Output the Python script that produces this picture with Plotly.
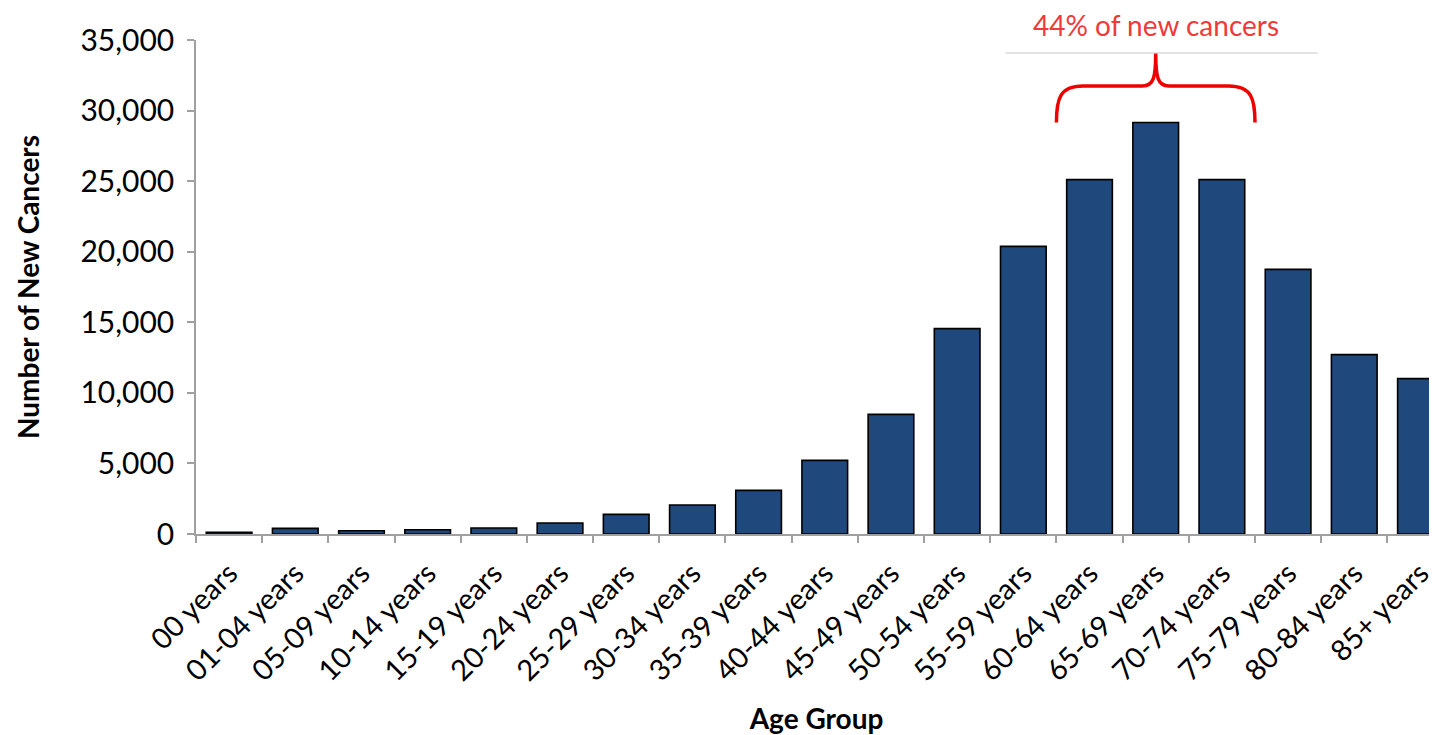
import plotly.graph_objects as go

categories = ["00 years", "01-04 years", "05-09 years", "10-14 years", "15-19 years",
              "20-24 years", "25-29 years", "30-34 years", "35-39 years", "40-44 years",
              "45-49 years", "50-54 years", "55-59 years", "60-64 years", "65-69 years",
              "70-74 years", "75-79 years", "80-84 years", "85+ years"]
new_cancers = [120, 400, 230, 300, 420, 780, 1390, 2055, 3090, 5215,
               8475, 14550, 20380, 25110, 29150, 25110, 18750, 12710, 11005]
y_ticks = [0, 5000, 10000, 15000, 20000, 25000, 30000, 35000]
bracket_label = "44% of new cancers"
bracket_start, bracket_end = 13, 15   # indices of 60-64 ... 70-74

positions = list(range(len(categories)))
FONT = "Lato"
AXIS_GREY = "#a0a0a0"

fig = go.Figure()
fig.add_trace(go.Bar(
    x=positions, y=new_cancers, width=0.69,
    marker=dict(color="#1f497d", line=dict(color="#000000", width=1.6)),
    showlegend=False, hoverinfo="x+y",
))

# bracket geometry in data units
lo = bracket_start - 0.5
hi = bracket_end + 0.5
mid = (lo + hi) / 2
y_end = new_cancers[bracket_start + 1]
y_bar = 31745
y_tip = 34060
path = (f"M {lo},{y_end} C {lo},{y_bar - 900} {lo + 0.05},{y_bar} {lo + 0.4},{y_bar} "
        f"L {mid - 0.2},{y_bar} C {mid - 0.03},{y_bar} {mid},{y_bar + 600} {mid},{y_tip} "
        f"C {mid},{y_bar + 600} {mid + 0.03},{y_bar} {mid + 0.2},{y_bar} "
        f"L {hi - 0.4},{y_bar} C {hi - 0.05},{y_bar} {hi},{y_bar - 900} {hi},{y_end}")
fig.add_shape(type="path", path=path, xref="x", yref="y",
              line=dict(color="#ee0000", width=3.5))
fig.add_shape(type="line", xref="x", yref="y", x0=lo - 0.77, x1=hi + 0.95,
              y0=34080, y1=34080, line=dict(color="#c8c8c8", width=1))
fig.add_annotation(x=mid, y=1.03, xref="x", yref="paper", text=bracket_label,
                   showarrow=False, font=dict(family=FONT, size=28, color="#f03a3a"),
                   xanchor="center", yanchor="middle")

# the page body adds an 8px offset, so the figure is 8px smaller on each axis
fig.update_layout(
    width=1429, height=727,
    margin=dict(l=188, r=0, t=32, b=201, autoexpand=False),
    paper_bgcolor="white", plot_bgcolor="white",
    font=dict(family=FONT, color="#000000"),
    bargap=0.31,
)
fig.update_xaxes(
    range=[-0.5, 18.25], automargin=False,
    tickmode="array", tickvals=positions, ticktext=categories,
    tickangle=-45, tickfont=dict(size=29, color="#000000"),
    ticks="", showline=True, linecolor=AXIS_GREY, linewidth=1.5,
    showgrid=False, zeroline=False,
    minor=dict(tickmode="array", tickvals=[p - 0.5 for p in positions] + [len(positions) - 0.5],
               ticks="outside", ticklen=7, tickcolor=AXIS_GREY, tickwidth=1.5, showgrid=False),
    ticklabelstandoff=9,
    title=dict(text="<b>Age Group</b>", font=dict(size=28, color="#000000"), standoff=28),
)
fig.update_yaxes(
    range=[0, 35000], automargin=False, tickmode="array", tickvals=y_ticks,
    ticktext=[f"{v:,}" for v in y_ticks],
    tickfont=dict(size=30, color="#000000"),
    ticks="outside", ticklen=7, tickcolor=AXIS_GREY, tickwidth=1.5,
    showline=True, linecolor=AXIS_GREY, linewidth=1.5,
    showgrid=False, zeroline=False, ticklabelstandoff=7,
    title=dict(text="<b>Number of New Cancers</b>", font=dict(size=28, color="#000000"), standoff=33),
)

fig.write_html("out.html")
